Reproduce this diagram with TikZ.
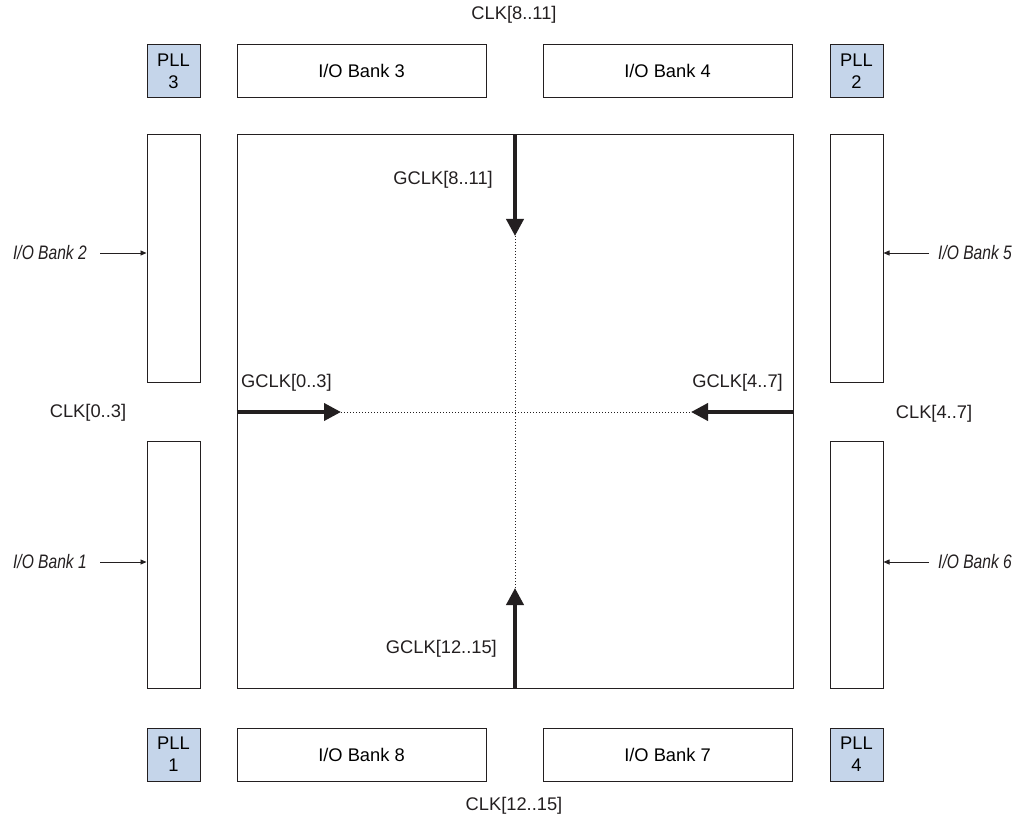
\documentclass[tikz,border=0pt]{standalone}
\usepackage{fontspec}
\setmainfont{Liberation Sans}
\newfontfamily\narrowfont[FakeStretch=0.8]{Liberation Sans}
\usetikzlibrary{arrows.meta}
\definecolor{pllblue}{RGB}{197,213,234}
\definecolor{ink}{RGB}{35,31,32}
\tikzset{
  box/.style={draw=ink, line width=1pt, inner sep=0pt, fill=white},
  pll/.style={box, fill=pllblue, minimum width=53pt, minimum height=53pt, align=center, font=\fontsize{18.3}{22}\selectfont},
  hbank/.style={box, minimum width=249pt, minimum height=53pt, font=\fontsize{18.3}{22}\selectfont},
  vbank/.style={box, minimum width=53pt, minimum height=247pt},
  lbl/.style={inner sep=0pt, text=ink, font=\fontsize{18.3}{22}\selectfont},
  itlbl/.style={inner sep=0pt, text=ink, font=\narrowfont\itshape\fontsize{19.5}{23}\selectfont},
  thickarrow/.style={draw=ink, line width=3.8pt, -{Triangle[length=17pt,width=17pt]}},
  thinarrow/.style={draw=ink, line width=0.8pt, -{Triangle[length=6pt,width=5pt]}},
  dots/.style={draw=ink, line width=0.9pt, dash pattern=on 1.4pt off 1.6pt}
}
\begin{document}
\begin{tikzpicture}[x=1pt,y=-1pt]
\useasboundingbox (0,0) rectangle (1023,821);
% core
\node[box, minimum width=556pt, minimum height=553pt] (core) at (515,411.5) {};
% top row
\node[pll] (pll3) at (173.5,71) {PLL\\3};
\node[hbank] (iob3) at (361.5,71) {I/O Bank 3};
\node[hbank] (iob4) at (667.5,71) {I/O Bank 4};
\node[pll] (pll2) at (856.5,71) {PLL\\2};
% bottom row
\node[pll] (pll1) at (173.5,754.5) {PLL\\1};
\node[hbank] (iob8) at (361.5,754.5) {I/O Bank 8};
\node[hbank] (iob7) at (667.5,754.5) {I/O Bank 7};
\node[pll] (pll4) at (856.5,754.5) {PLL\\4};
% side banks
\node[vbank] (lb2) at (173.5,258.5) {};
\node[vbank] (lb1) at (173.5,565) {};
\node[vbank] (rb5) at (856.5,258.5) {};
\node[vbank] (rb6) at (856.5,565) {};
% side labels
\node[itlbl, anchor=east] (t2) at (87,253) {I/O Bank 2};
\node[itlbl, anchor=east] (t1) at (87,562) {I/O Bank 1};
\node[itlbl, anchor=west] (t5) at (938,253) {I/O Bank 5};
\node[itlbl, anchor=west] (t6) at (938,562) {I/O Bank 6};
\draw[thinarrow] ([xshift=13pt]t2.east) -- (t2 -| lb2.west);
\draw[thinarrow] ([xshift=13pt]t1.east) -- (t1 -| lb1.west);
\draw[thinarrow] ([xshift=-9pt]t5.west) -- (t5 -| rb5.east);
\draw[thinarrow] ([xshift=-9pt]t6.west) -- (t6 -| rb6.east);
% clock labels
\node[lbl] (clk811) at (514,15) {CLK[8..11]};
\node[lbl] (clk1215) at (514,806) {CLK[12..15]};
\node[lbl] (clk03) at (88,413) {CLK[0..3]};
\node[lbl] (clk47) at (934,414) {CLK[4..7]};
\node[lbl, anchor=east] (g811) at (493,180) {GCLK[8..11]};
\node[lbl, anchor=west] (g03) at (241,383) {GCLK[0..3]};
\node[lbl, anchor=east] (g47) at (783,383) {GCLK[4..7]};
\node[lbl, anchor=east] (g1215) at (497,649) {GCLK[12..15]};
% arrow ends
\coordinate (tt) at (515,236);
\coordinate (bt) at (515,588);
\coordinate (lt) at (341,412);
\coordinate (rt) at (691,412);
\coordinate (ct) at (core.north);
\coordinate (cb) at (core.south);
\coordinate (cl) at (core.west |- lt);
\coordinate (cr) at (core.east |- rt);
% dotted
\draw[dots] (tt) -- (bt);
\draw[dots] (lt) -- (rt);
% thick arrows
\draw[thickarrow] (ct) -- (tt);
\draw[thickarrow] (cb) -- (bt);
\draw[thickarrow] (cl) -- (lt);
\draw[thickarrow] (cr) -- (rt);
\end{tikzpicture}
\end{document}
